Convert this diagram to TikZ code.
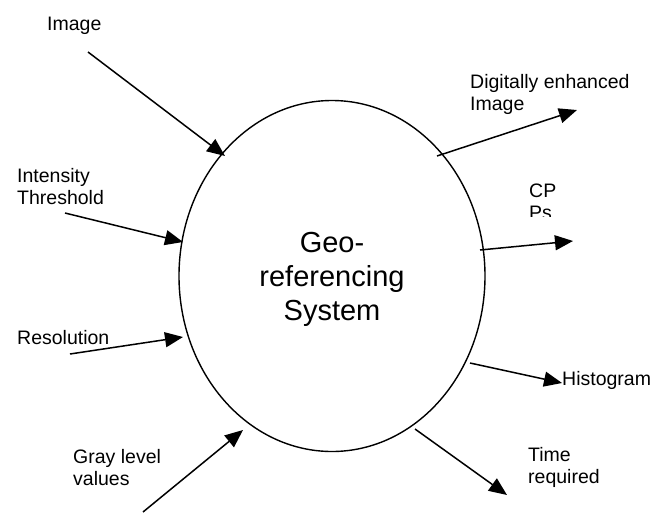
\documentclass[tikz,border=0pt]{standalone}
\usepackage{fontspec}
\setmainfont{Liberation Sans}
\usetikzlibrary{shapes.geometric,arrows.meta}

\tikzset{
  flow/.style={line width=1.5pt, -{Triangle[length=18pt,width=15pt]}},
  % labels are placed by the baseline of their last line
  lbl/.style={anchor=base west, inner sep=0pt, align=left,
    font=\fontsize{19.5pt}{21.5pt}\selectfont},
  core/.style={ellipse, draw, line width=1.4pt, minimum width=306pt,
    minimum height=351pt, inner sep=0pt},
  coretext/.style={align=center, inner sep=0pt,
    font=\fontsize{29pt}{34pt}\selectfont}
}

\begin{document}
\begin{tikzpicture}[x=1pt, y=-1pt]
  \useasboundingbox (0,0) rectangle (664,512);

  % central process
  \node[core] (sys) at (332,276) {};
  \node[coretext, anchor=base] (systxt) at (332,320)
    {Geo-\\referencing\\System};

  % inputs
  \node[lbl] (img)  at (47,30)   {Image};
  \node[lbl] (thr)  at (17,204)  {Intensity\\Threshold};
  \node[lbl] (res)  at (17,344)  {Resolution};
  \node[lbl] (gray) at (73,485)  {Gray level\\values};

  % outputs
  \node[lbl] (enh)  at (470,110) {Digitally enhanced\\Image};
  \begin{scope}
    \clip (500,150) rectangle (640,216);
    \node[lbl] (cps) at (529,219) {CP\\Ps};
  \end{scope}
  \node[lbl] (hist) at (562,385) {Histogram};
  \node[lbl] (time) at (528,483) {Time\\required};

  % connector ends
  \coordinate (imgS)  at (88,52);   \coordinate (imgT)  at (225,156);
  \coordinate (thrS)  at (65,213);  \coordinate (thrT)  at (183,242);
  \coordinate (resS)  at (70,354);  \coordinate (resT)  at (183,337);
  \coordinate (grayS) at (143,512); \coordinate (grayT) at (243,430);
  \coordinate (enhS)  at (437,156); \coordinate (enhT)  at (577,110);
  \coordinate (cpsS)  at (480,250); \coordinate (cpsT)  at (573,241);
  \coordinate (histS) at (470,363); \coordinate (histT) at (562,383);
  \coordinate (timeS) at (415,429); \coordinate (timeT) at (507,495);

  \draw[flow] (imgS)  -- (imgT);
  \draw[flow] (thrS)  -- (thrT);
  \draw[flow] (resS)  -- (resT);
  \draw[flow] (grayS) -- (grayT);
  \draw[flow] (enhS)  -- (enhT);
  \draw[flow] (cpsS)  -- (cpsT);
  \draw[flow] (histS) -- (histT);
  \draw[flow] (timeS) -- (timeT);
\end{tikzpicture}
\end{document}
